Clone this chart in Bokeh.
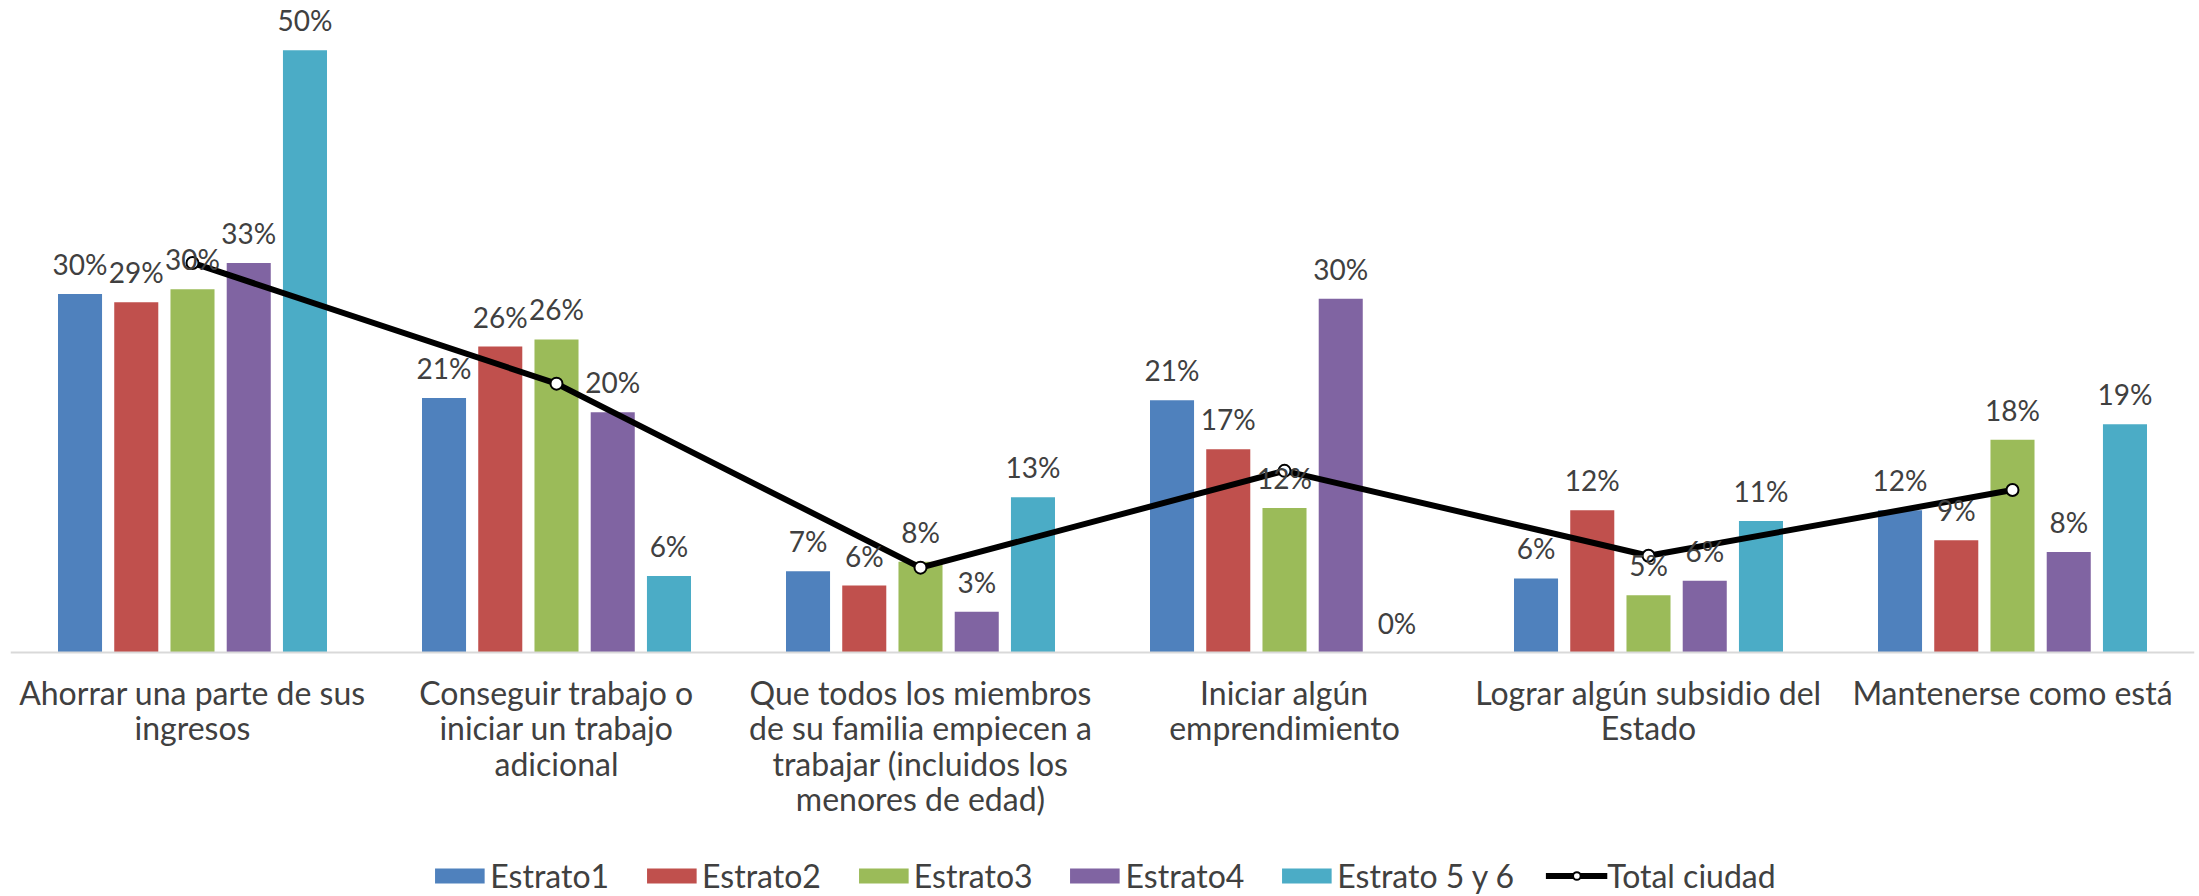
from bokeh.plotting import figure
from bokeh.models import ColumnDataSource, Legend, LegendItem, LabelSet, FactorRange, Range1d, Span
from bokeh.core.properties import value
from bokeh.transform import dodge
from bokeh.embed import file_html
from bokeh.resources import INLINE

categories = [
    "Ahorrar una parte de sus\ningresos",
    "Conseguir trabajo o\niniciar un trabajo\nadicional",
    "Que todos los miembros\nde su familia empiecen a\ntrabajar (incluidos los\nmenores de edad)",
    "Iniciar algún\nemprendimiento",
    "Lograr algún subsidio del\nEstado",
    "Mantenerse como está",
]
estrato1 = [30.0, 21.3, 6.8, 21.1, 6.2, 11.9]
estrato2 = [29.3, 25.6, 5.6, 17.0, 11.9, 9.4]
estrato3 = [30.4, 26.2, 7.6, 12.1, 4.8, 17.8]
estrato4 = [32.6, 20.1, 3.4, 29.6, 6.0, 8.4]
estrato5y6 = [50.4, 6.4, 13.0, 0.0, 11.0, 19.1]
total_ciudad = [32.6, 22.5, 7.1, 15.2, 8.1, 13.6]

series_names = ["Estrato1", "Estrato2", "Estrato3", "Estrato4", "Estrato 5 y 6"]
series_values = [estrato1, estrato2, estrato3, estrato4, estrato5y6]
colors = ["#4F81BD", "#C0504D", "#9BBB59", "#8064A2", "#4BACC6"]
offsets = [-0.309, -0.1545, 0.0, 0.1545, 0.309]

FONT = "Lato"
TXT = "#404040"
PX_PER_PCT = 11.95
LINE_STEP = 35.5

data = {"cat": categories, "total": total_ciudad}
for i, vals in enumerate(series_values):
    data[f"s{i}"] = vals
    data[f"l{i}"] = [f"{round(v)}%" for v in vals]
src = ColumnDataSource(data)

# one row per printed line of each category label, so each line is centred
cat_x, cat_line, cat_y, cat_off = [], [], [], []
for c in categories:
    for k, part in enumerate(c.split("\n")):
        cat_x.append(c)
        cat_line.append(part)
        cat_y.append(0)
        cat_off.append(-20 - k * LINE_STEP)
cat_src = ColumnDataSource(dict(x=cat_x, text=cat_line, y=cat_y, off=cat_off))

p = figure(
    x_range=FactorRange(*categories),
    y_range=Range1d(-243 / PX_PER_PCT, 644 / PX_PER_PCT),
    frame_width=2184, frame_height=887,
    min_border_left=10, min_border_right=2, min_border_top=8, min_border_bottom=0,
    output_backend="svg", toolbar_location=None,
    x_axis_location=None, y_axis_location=None,
)
p.outline_line_color = None
p.xgrid.grid_line_color = None
p.ygrid.grid_line_color = None
p.background_fill_color = "white"
p.border_fill_color = "white"

p.add_layout(Span(location=0, dimension="width", line_color="#D9D9D9", line_width=2))

bar_renderers = []
for i, name in enumerate(series_names):
    r = p.vbar(x=dodge("cat", offsets[i], range=p.x_range), top=f"s{i}", bottom=0, width=0.121,
               source=src, fill_color=colors[i], line_color=None)
    bar_renderers.append(r)

line_r = p.line(x="cat", y="total", source=src, line_color="black", line_width=6)
mark_r = p.scatter(x="cat", y="total", source=src, marker="circle", size=12,
                   fill_color="white", line_color="black", line_width=2)

for i in range(5):
    lbl = LabelSet(x=dodge("cat", offsets[i], range=p.x_range), y=f"s{i}", text=f"l{i}",
                   source=src, text_align="center", text_baseline="alphabetic", y_offset=19,
                   text_font=value(FONT), text_font_size="28px", text_color=TXT)
    p.add_layout(lbl)

cat_labels = LabelSet(x="x", y="y", text="text", source=cat_src, y_offset="off",
                      text_align="center", text_baseline="top",
                      text_font=value(FONT), text_font_size="32px", text_color=TXT)
p.add_layout(cat_labels)

items = [LegendItem(label=n, renderers=[r]) for n, r in zip(series_names, bar_renderers)]
items.append(LegendItem(label="Total ciudad", renderers=[line_r, mark_r]))
legend = Legend(items=items, orientation="horizontal", location="bottom_center",
                glyph_width=62, glyph_height=19, label_standoff=0, spacing=31,
                label_text_font=FONT, label_text_font_size="32px", label_text_color=TXT,
                border_line_color=None, background_fill_alpha=0, padding=0, margin=0)
p.add_layout(legend, "center")

open("out.html", "w").write(file_html(p, INLINE))
